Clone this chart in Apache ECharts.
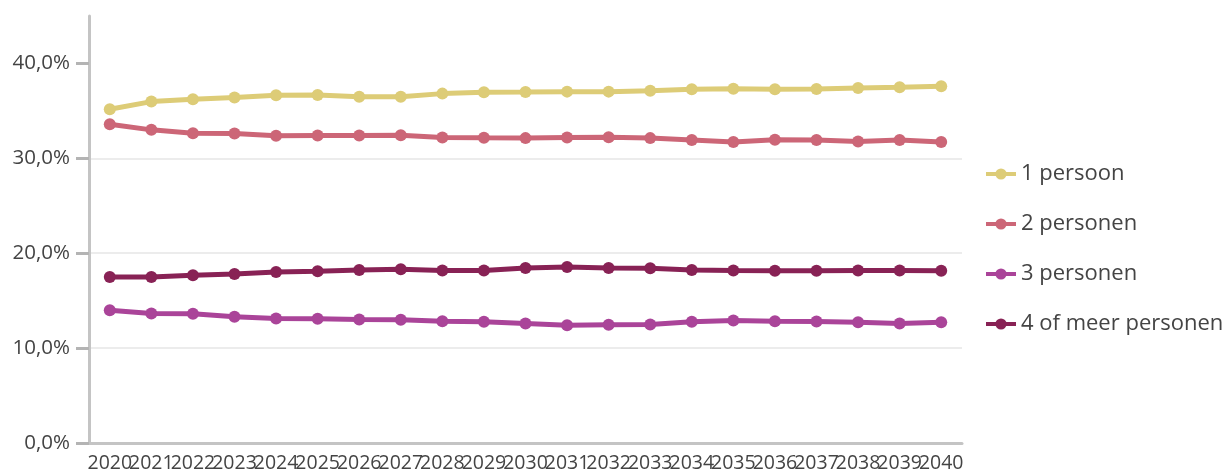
<!DOCTYPE html>
<html><head><meta charset="utf-8">
<script src="https://cdn.jsdelivr.net/npm/echarts@6/dist/echarts.min.js"></script>
<style>html,body{margin:0;padding:0;background:#fff}#c{width:1228px;height:473px}</style>
</head><body><div id="c"></div>
<script>
var years = ['2020','2021','2022','2023','2024','2025','2026','2027','2028','2029','2030','2031','2032','2033','2034','2035','2036','2037','2038','2039','2040'];
var seriesNames = ['1 persoon','2 personen','3 personen','4 of meer personen'];
var persoon1 = [35.17,35.98,36.22,36.40,36.64,36.67,36.50,36.50,36.82,36.96,36.99,37.03,37.03,37.13,37.27,37.34,37.27,37.30,37.41,37.48,37.59];
var personen2 = [33.60,33.00,32.65,32.62,32.37,32.41,32.41,32.44,32.20,32.16,32.13,32.20,32.23,32.13,31.92,31.71,31.95,31.92,31.78,31.92,31.71];
var personen3 = [14.00,13.65,13.62,13.30,13.12,13.09,13.02,12.99,12.84,12.78,12.60,12.42,12.46,12.49,12.78,12.91,12.84,12.81,12.73,12.60,12.73];
var personen4 = [17.50,17.50,17.67,17.82,18.03,18.09,18.24,18.30,18.19,18.19,18.45,18.55,18.45,18.41,18.24,18.19,18.16,18.16,18.19,18.19,18.16];
var yTicks = [0,10,20,30,40];
var colors = ['#DDCC77','#CC6677','#AA4499','#882255'];
var font = '"Open Sans", "Noto Sans", sans-serif';
var chart = echarts.init(document.getElementById('c'), null, {renderer:'canvas'});
function mk(name, data, color){
  return {name:name, type:'line', data:data, color:color, symbol:'circle', symbolSize:12,
    lineStyle:{width:5, color:color}, itemStyle:{color:color}, emphasis:{disabled:true}};
}
chart.setOption({
  animation:false,
  grid:{left:89, right:266, top:16, bottom:28, containLabel:false},
  legend:{orient:'vertical', left:979, top:158, itemGap:28, itemWidth:30, itemHeight:14,
    lineStyle:{width:4}, itemStyle:{borderWidth:0},
    data:seriesNames, textStyle:{fontFamily:font, fontSize:22, color:'#444'}},
  xAxis:{type:'category', data:years, boundaryGap:true,
    axisLine:{lineStyle:{color:'#c4c4c4', width:3}},
    axisTick:{alignWithLabel:true, length:8, lineStyle:{color:'#c4c4c4', width:3}},
    axisLabel:{interval:0, hideOverlap:false, margin:10, fontFamily:font, fontSize:19.5, color:'#444'}},
  yAxis:{type:'value', min:0, max:45, interval:10,
    axisLine:{show:true, lineStyle:{color:'#c4c4c4', width:3}},
    axisTick:{show:true, inside:false, length:13, customValues:yTicks, lineStyle:{color:'#b4b4b4', width:3, opacity:1}},
    axisLabel:{customValues:yTicks, margin:19, fontFamily:font, fontSize:20.5, color:'#444',
      formatter:function(v){return v.toFixed(1).replace('.',',')+'%';}},
    splitLine:{show:true, showMaxLine:false, lineStyle:{color:'#e6e6e6', width:1.5}}},
  series:[mk(seriesNames[0],persoon1,colors[0]),mk(seriesNames[1],personen2,colors[1]),mk(seriesNames[2],personen3,colors[2]),mk(seriesNames[3],personen4,colors[3])]
});
</script></body></html>
